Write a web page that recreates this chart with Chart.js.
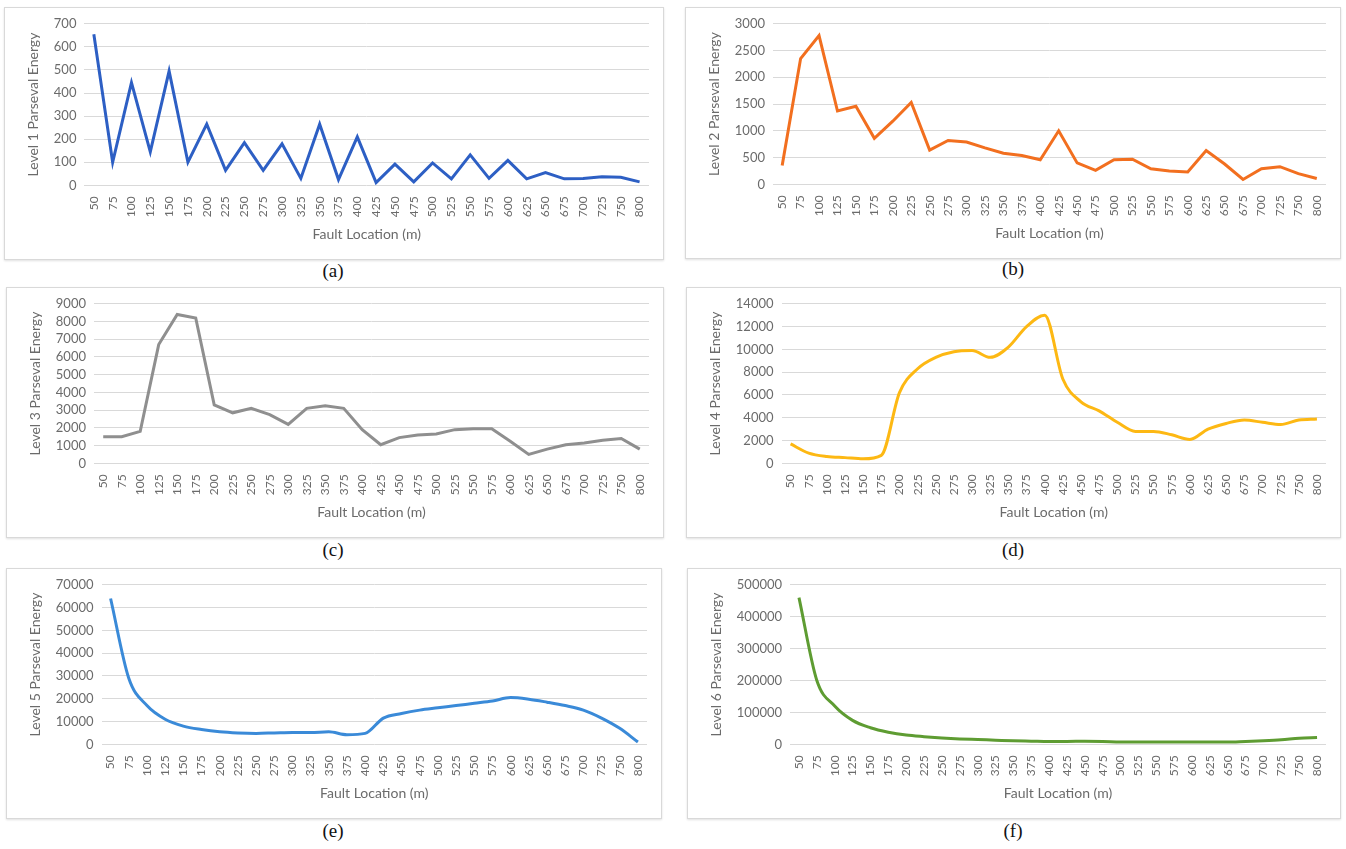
<!DOCTYPE html>
<html lang="en">
<head>
    <meta charset="UTF-8">
    <title>Parseval Energy vs Fault Location</title>
    <script src="https://cdn.jsdelivr.net/npm/chart.js"></script>
    <style>
        body { margin: 0; background: #fff; width: 1346px; height: 849px; position: relative; overflow: hidden; }
        .panel {
            position: absolute;
            border: 1px solid #d9d9d9;
            box-shadow: 0 1px 2px rgba(0,0,0,0.12);
            background: #fff;
        }
        .caption {
            position: absolute;
            width: 60px;
            text-align: center;
            font-family: "Liberation Serif", "Times New Roman", serif;
            font-size: 19px;
            color: #111;
        }
    </style>
</head>
<body>
    <div class="panel" style="left:4px; top:7px; width:658px; height:251px;"><canvas id="c1"></canvas></div>
    <div class="panel" style="left:685px; top:7px; width:654px; height:250px;"><canvas id="c2"></canvas></div>
    <div class="panel" style="left:6px; top:287px; width:656px; height:249px;"><canvas id="c3"></canvas></div>
    <div class="panel" style="left:686px; top:287px; width:653px; height:249px;"><canvas id="c4"></canvas></div>
    <div class="panel" style="left:6px; top:568px; width:654px; height:249px;"><canvas id="c5"></canvas></div>
    <div class="panel" style="left:687px; top:568px; width:652px; height:249px;"><canvas id="c6"></canvas></div>

    <div class="caption" style="left:303px; top:260px;">(a)</div>
    <div class="caption" style="left:983px; top:258px;">(b)</div>
    <div class="caption" style="left:303px; top:539px;">(c)</div>
    <div class="caption" style="left:983px; top:539px;">(d)</div>
    <div class="caption" style="left:303px; top:820px;">(e)</div>
    <div class="caption" style="left:983px; top:820px;">(f)</div>

    <script>
        // Fault locations (775 m is not in the data)
        const faultLocations = ['50', '75', '100', '125', '150', '175', '200', '225', '250', '275',
            '300', '325', '350', '375', '400', '425', '450', '475', '500', '525',
            '550', '575', '600', '625', '650', '675', '700', '725', '750', '800'];

        // Parseval energy for each decomposition level
        const level1 = [655, 100, 445, 145, 495, 100, 265, 65, 185, 65,
            180, 30, 265, 25, 210, 12, 92, 15, 97, 28,
            132, 30, 108, 28, 55, 28, 30, 37, 35, 15];
        const level2 = [350, 2350, 2780, 1370, 1460, 860, 1180, 1530, 640, 820,
            790, 680, 580, 540, 460, 1000, 400, 260, 460, 470,
            290, 250, 230, 630, 380, 90, 290, 330, 200, 110];
        const level3 = [1500, 1500, 1800, 6700, 8400, 8200, 3300, 2850, 3100, 2750,
            2200, 3100, 3250, 3100, 1900, 1050, 1450, 1600, 1650, 1900,
            1950, 1950, 1250, 500, 800, 1050, 1150, 1300, 1400, 800];
        const level4 = [1700, 900, 600, 500, 400, 700, 6200, 8300, 9300, 9800,
            9900, 9300, 10200, 12000, 13000, 7400, 5400, 4600, 3600, 2800,
            2800, 2500, 2100, 3000, 3500, 3800, 3600, 3400, 3800, 3900];
        const level5 = [64000, 29000, 17000, 11000, 8000, 6500, 5500, 5000, 4800, 5000,
            5200, 5200, 5500, 4200, 4800, 11500, 13500, 15000, 16000, 17000,
            18000, 19000, 20500, 19800, 18500, 17000, 15000, 11500, 7000, 1000];
        const level6 = [460000, 200000, 120000, 75000, 52000, 38000, 29000, 24000, 20000, 17000,
            15000, 13000, 11000, 10000, 9000, 9000, 9500, 9000, 7000, 7000,
            7000, 7000, 7000, 7000, 7000, 9000, 11000, 14000, 19000, 21000];

        Chart.defaults.font.family = 'Lato, "Open Sans", sans-serif';
        Chart.defaults.color = '#6b6b6b';

        // one small line chart per level
        function makeChart(id, values, color, level, yMax, yStep, smooth) {
            new Chart(document.getElementById(id), {
                type: 'line',
                data: {
                    labels: faultLocations,
                    datasets: [{
                        data: values,
                        borderColor: color,
                        borderWidth: 3,
                        pointRadius: 0,
                        tension: smooth ? 0.4 : 0,
                        cubicInterpolationMode: smooth ? 'monotone' : 'default'
                    }]
                },
                options: {
                    responsive: true,
                    maintainAspectRatio: false,
                    animation: false,
                    layout: { padding: { top: 12, right: 14, bottom: 12, left: 16 } },
                    plugins: {
                        legend: { display: false },
                        tooltip: { enabled: false }
                    },
                    scales: {
                        x: {
                            offset: true,
                            grid: { display: false },
                            border: { display: false },
                            ticks: {
                                autoSkip: false,
                                minRotation: 90,
                                maxRotation: 90,
                                font: { size: 12 }
                            },
                            title: {
                                display: true,
                                text: 'Fault Location (m)',
                                font: { size: 14 },
                                padding: { top: 6 }
                            }
                        },
                        y: {
                            min: 0,
                            max: yMax,
                            grid: { color: '#d9d9d9', drawTicks: false },
                            border: { display: false },
                            ticks: {
                                stepSize: yStep,
                                autoSkip: false,
                                padding: 8,
                                font: { size: 13 },
                                callback: v => String(v)
                            },
                            title: {
                                display: true,
                                text: 'Level ' + level + ' Parseval Energy',
                                font: { size: 14 }
                            }
                        }
                    }
                }
            });
        }

        makeChart('c1', level1, '#2d5fc4', 1, 700, 100, false);
        makeChart('c2', level2, '#f26f1f', 2, 3000, 500, false);
        makeChart('c3', level3, '#8f8f8f', 3, 9000, 1000, false);
        makeChart('c4', level4, '#fdb813', 4, 14000, 2000, true);
        makeChart('c5', level5, '#3a8ad8', 5, 70000, 10000, true);
        makeChart('c6', level6, '#5e9c32', 6, 500000, 100000, true);
    </script>
</body>
</html>
